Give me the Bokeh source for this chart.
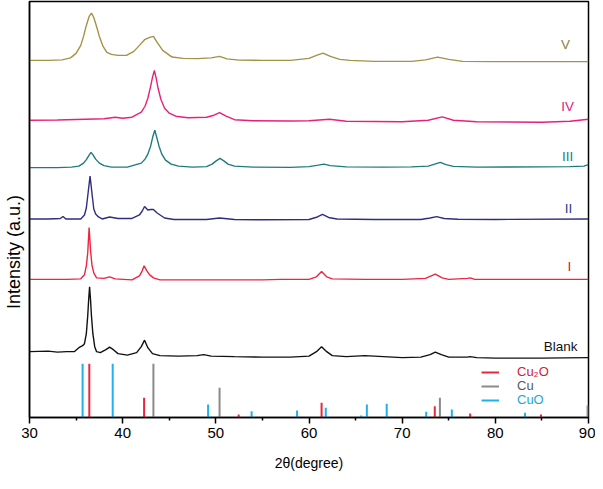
from bokeh.plotting import figure
from bokeh.models import Range1d, FixedTicker, Legend, LegendItem
from bokeh.core.properties import value
from bokeh.embed import file_html
from bokeh.resources import INLINE

# ---------------- data ----------------
# 2theta (degree) and intensity (a.u., already vertically offset)
blank_x = [30, 32, 33, 34, 34.8, 35.3, 35.7, 35.9, 36.1, 36.25, 36.35, 36.45, 36.55, 36.65, 36.8, 37.0, 37.2,
           37.6, 38.2, 38.6, 39.0, 39.5, 40.5, 41.5, 42.0, 42.35, 42.7, 43.2, 44, 46, 48, 48.7, 49.5, 52, 55,
           58, 60, 60.8, 61.35, 61.9, 62.5, 64, 66, 68, 70, 72, 73.0, 73.55, 74.2, 75, 77, 77.3, 78, 80, 85, 90]
blank_y = [66, 66.5, 65.5, 66, 66, 70, 72, 74, 84, 102, 118, 131, 118, 102, 84, 71, 66,
           65, 68, 70.5, 68, 64, 62.5, 65, 71, 77.5, 70, 64, 62, 61.5, 62, 63, 61.5, 61, 60.5,
           60.5, 61.5, 66, 71, 66, 62, 61, 62, 61, 60, 60.5, 63, 65.5, 63, 60.5, 60.5, 61, 60, 59.5, 59.5, 60]

s1_x = [30, 34, 35.5, 35.9, 36.1, 36.25, 36.4, 36.55, 36.7, 36.9, 37.2, 38.0, 38.6, 39.2, 41.0, 41.8, 42.1,
        42.3, 42.6, 42.9, 43.3, 44, 50, 55, 57, 60, 60.8, 61.35, 61.9, 62.5, 66, 70, 72.5, 73.55, 74.3, 75,
        77.0, 77.3, 77.8, 80, 90]
s1_y = [138.5, 138.5, 139, 143, 152, 165, 190.5, 168, 153, 145, 140, 139.5, 141, 139, 138, 142, 147,
        152, 147, 143, 140, 138, 138, 138, 138.5, 138.5, 141, 146.3, 141, 139, 138.5, 138.5, 139.5, 143.7, 140, 138.5,
        139.5, 140, 138.5, 138.5, 138.5]

s2_x = [30, 32, 33.3, 33.6, 33.9, 35.5, 35.9, 36.1, 36.25, 36.5, 36.75, 36.9, 37.1, 37.4, 37.8, 38.6, 39.5,
        41, 41.8, 42.1, 42.35, 42.7, 43.0, 43.3, 43.7, 44.5, 45.5, 49, 50.4, 52, 55, 60, 60.9, 61.45, 62.1,
        63, 67, 72, 73.0, 73.7, 74.5, 76, 80, 90]
s2_y = [199, 199, 199.5, 201.5, 199, 199, 203, 210, 222, 242, 221, 209, 204, 201, 199, 201, 199.5,
        199.5, 203, 207, 211.5, 208, 208.5, 208.5, 205, 200, 198.5, 198.5, 200, 198.5, 198.2, 198.5, 201, 203.7, 200.5,
        199, 198.5, 198.5, 200, 201.3, 199.5, 198.7, 198.5, 199]

s3_x = [30, 33, 34.5, 35.3, 35.8, 36.1, 36.4, 36.6, 36.8, 37.1, 37.5, 38.0, 38.8, 40.5, 42.0, 42.4, 42.7,
        43.0, 43.25, 43.45, 43.65, 43.9, 44.2, 44.6, 45.2, 46.0, 47.5, 49.0, 49.6, 50.0, 50.45, 50.9, 51.3, 52,
        54, 58, 60, 61.0, 61.6, 62.3, 64, 68, 71, 72.8, 73.5, 74.1, 74.7, 75.5, 78, 85, 88, 89.5, 90]
s3_y = [250.5, 250.5, 251, 252, 255, 258.5, 263, 265.7, 263.5, 259, 255, 252.5, 251, 251, 255, 259, 264,
        272, 282, 288, 281, 272, 264, 258, 254, 252, 251, 251.5, 254, 257, 259.7, 257, 254, 252,
        251, 250.7, 251.5, 253, 254, 252.5, 251.2, 251, 251.2, 252, 254, 255.7, 253.5, 251.7, 251, 251.2, 251.5, 252, 253.5]

s4_x = [30, 33, 36, 38, 39.2, 40, 41, 42.0, 42.4, 42.7, 43.0, 43.2, 43.4, 43.6, 43.8, 44.1, 44.5, 45.0,
        45.7, 47, 49, 49.8, 50.4, 51.1, 52.0, 54, 58, 60, 62.2, 64, 70, 72.8, 74.3, 75.5, 78, 85, 88, 90]
s4_y = [298, 298.2, 299, 299.5, 301, 300, 301, 306, 312, 320, 332, 341, 348, 340, 330, 319, 310, 305,
        302, 300.5, 301, 303, 305.7, 302, 298.5, 297.5, 297.2, 297.5, 299, 297, 296.5, 298, 301.3, 298, 296.5, 296, 297, 299]

s5_x = [30, 32, 33.5, 34.4, 35.0, 35.5, 35.8, 36.1, 36.4, 36.65, 36.9, 37.2, 37.5, 37.9, 38.3, 38.8, 39.5,
        40.4, 41.2, 41.8, 42.35, 42.9, 43.3, 43.7, 44.3, 45.3, 46.5, 48, 49.5, 50.4, 51.2, 52.5, 55, 58, 60,
        60.8, 61.5, 62.3, 63.3, 64.4, 67, 71, 72.5, 73.8, 75, 76.5, 80, 85, 90]
s5_y = [358, 358, 358.5, 360.5, 365, 373, 382, 393, 402, 405.3, 401, 392, 382, 372, 366, 364, 363,
        363, 367, 373, 378.7, 381, 382, 376, 368, 361.3, 360, 359.7, 360.5, 362, 359.5, 358.2, 358, 358, 360,
        363, 365.3, 362, 359, 358, 357, 357, 358.5, 361.3, 359, 357, 356.7, 356.7, 356.7]

curve_names = ["Blank", "I", "II", "III", "IV", "V"]
curve_colors = ["#111111", "#ee2440", "#2e2e80", "#1f7a80", "#e8207c", "#a39248"]
label_colors = ["#111111", "#c42040", "#27408a", "#1f8080", "#e0208a", "#8f8040"]
label_x = [87.0, 87.96, 87.86, 87.75, 87.75, 87.54]
label_y = [71.3, 151.3, 209.7, 261.3, 312, 374]

# reference patterns (2theta, relative height)
cu2o_pos = [36.42, 42.3, 52.45, 61.35, 73.5, 77.3, 84.9]
cu2o_h = [54, 19.7, 3, 14.7, 11.3, 4, 3]
cu_pos = [43.3, 50.4, 74.05, 89.9]
cu_h = [54, 29.7, 19.7, 12]
cuo_pos = [35.7, 38.93, 49.17, 53.84, 58.72, 61.8, 65.6, 66.21, 68.34, 72.58, 75.33, 83.18]
cuo_h = [54, 54, 13, 6.3, 7, 9.7, 2, 13, 13.7, 5.7, 8, 4.7]

x_ticks = [30, 40, 50, 60, 70, 80, 90]
x_minor = [35, 45, 55, 65, 75, 85]

FONT = "Liberation Sans"

p = figure(width=595, height=473, x_range=Range1d(30, 90), y_range=Range1d(0, 417),
           output_backend="svg", toolbar_location=None,
           min_border_left=28, min_border_right=7, min_border_top=1, min_border_bottom=55)
p.grid.visible = False
p.outline_line_color = "black"
p.outline_line_width = 1.5
p.background_fill_color = "white"

# x axis
xa = p.xaxis[0]
xa.ticker = FixedTicker(ticks=x_ticks, minor_ticks=x_minor)
xa.axis_line_width = 1.5
xa.major_tick_line_width = 1.5
xa.minor_tick_line_width = 1.5
xa.major_tick_out = 6
xa.major_tick_in = 0
xa.minor_tick_out = 3
xa.minor_tick_in = 0
xa.major_label_text_font = FONT
xa.major_label_text_font_size = "15px"
xa.major_label_text_color = "black"
xa.major_label_standoff = 4
xa.axis_label = "2θ(degree)"
xa.axis_label_text_font = FONT
xa.axis_label_text_font_size = "14px"
xa.axis_label_text_font_style = "normal"
xa.axis_label_text_color = "black"
xa.axis_label_standoff = 14

# y axis: line only, title sits below the centre as in the original (padded with no-break spaces)
ya = p.yaxis[0]
ya.ticker = FixedTicker(ticks=[])
ya.major_tick_line_color = None
ya.minor_tick_line_color = None
ya.major_label_text_font_size = "0px"
ya.major_label_standoff = 0
ya.axis_line_width = 1.5
ya.axis_label = "Intensity (a.u.)" + "\u00a0" * 17
ya.axis_label_text_font = FONT
ya.axis_label_text_font_size = "18px"
ya.axis_label_text_font_style = "normal"
ya.axis_label_text_color = "black"
ya.axis_label_standoff = 6

# curves
xs = [blank_x, s1_x, s2_x, s3_x, s4_x, s5_x]
ys = [blank_y, s1_y, s2_y, s3_y, s4_y, s5_y]
for cx, cy, col in zip(xs, ys, curve_colors):
    p.line(cx, cy, line_color=col, line_width=1.4)

p.text(x=label_x, y=label_y, text=curve_names, text_color=label_colors,
       text_font=value(FONT), text_font_size="13.5px", text_align="center", text_baseline="middle")

# sticks
r_cu2o = p.segment(x0=cu2o_pos, y0=[0] * len(cu2o_pos), x1=cu2o_pos, y1=cu2o_h, line_color="#e8283a", line_width=2)
r_cu = p.segment(x0=cu_pos, y0=[0] * len(cu_pos), x1=cu_pos, y1=cu_h, line_color="#8a8a8a", line_width=2)
r_cuo = p.segment(x0=cuo_pos, y0=[0] * len(cuo_pos), x1=cuo_pos, y1=cuo_h, line_color="#20b0ea", line_width=2)

legend_specs = [("Cu₂O", r_cu2o, "#d0203a", 38), ("Cu", r_cu, "#5a5a5a", 24), ("CuO", r_cuo, "#22a6e0", 10)]
for lab, rend, tcol, ly in legend_specs:
    lg = Legend(items=[LegendItem(label=lab, renderers=[rend])], location=(452, ly),
                glyph_width=18, glyph_height=14, label_height=13, label_standoff=18,
                padding=0, margin=0, spacing=0, border_line_color=None, background_fill_alpha=0,
                label_text_font=FONT, label_text_font_size="13px", label_text_color=tcol,
                label_text_line_height=1.0)
    p.add_layout(lg)

open("out.html", "w").write(file_html(p, INLINE))
